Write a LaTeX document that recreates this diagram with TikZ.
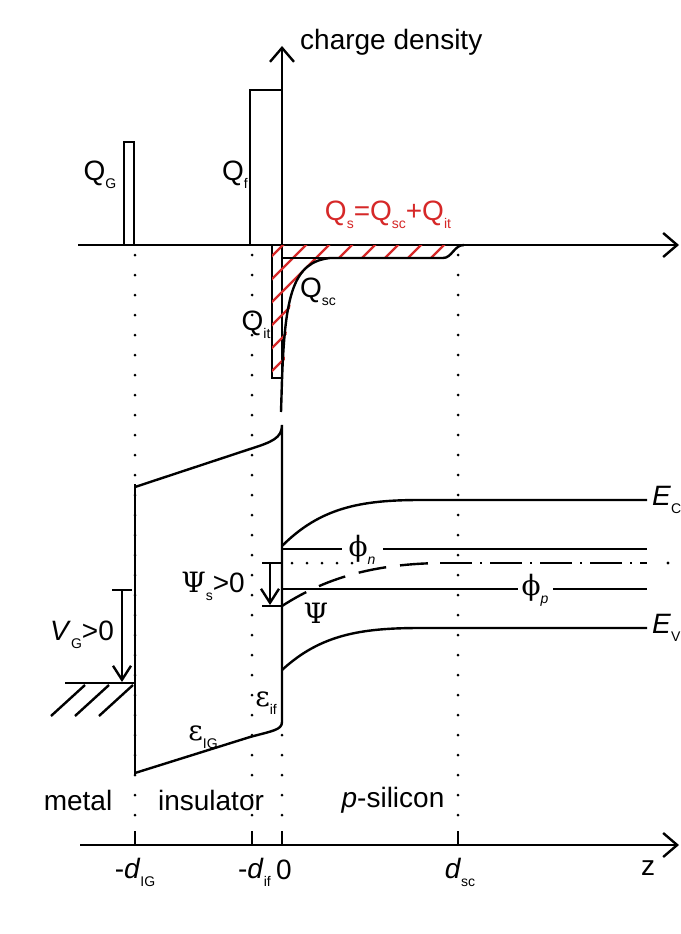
\documentclass[tikz,border=0pt]{standalone}
\usepackage{fontspec}
\setmainfont{Liberation Sans}
\newfontfamily\grk{DejaVu Serif}
\usepackage{xcolor}
\definecolor{qred}{RGB}{214,40,40}
\usetikzlibrary{arrows.meta,positioning}
\newcommand{\lo}[1]{\raisebox{-0.55ex}{\normalfont\fontsize{14}{14}\selectfont #1}}

\begin{document}
\begin{tikzpicture}[x=1pt,y=-1pt,
    every node/.style={font=\fontsize{28}{32}\selectfont,inner sep=0pt},
    band/.style={line width=2.4pt},
    axis/.style={line width=2.4pt,-{Straight Barb[length=14pt,width=24pt]}},
    arr/.style={line width=2.4pt,-{Straight Barb[length=14pt,width=18pt]}},
    guide/.style={line width=3pt,line cap=round,dash pattern=on 0pt off 20pt},
    hatch/.style={qred,line width=2.2pt}]
  \useasboundingbox[fill=white] (0,0) rectangle (680,934);

  % charge density
  \coordinate (o)    at (282,245);
  \coordinate (qtop) at (282,46);
  \coordinate (zl)   at (78,245);
  \coordinate (zr)   at (679,245);
  \draw[axis] (o) -- (qtop);
  \draw[axis] (zl) -- (zr);
  \node[anchor=west] (cd) at (300,42) {charge density};

  \draw[band] (124,245) rectangle (134,142);
  \draw[band] (250,245) rectangle (282,90);
  \draw[band] (272,245) rectangle (282,378);
  \node (qg) at (100,175) {Q\lo{G}};
  \node (qf) at (235,175) {Q\lo{f}};

  \begin{scope}
    \clip (272,245) -- (272,378) -- (284,378) .. controls (287,295) and (295,262) .. (330,258)
          -- (443,258) .. controls (452,258) and (454,245) .. (464,245) -- cycle;
    \foreach \c in {528,551,...,712}
      \draw[hatch] (\c-420,420) -- (\c-230,230);
  \end{scope}
  \draw[band] (281,412) -- (282,380) .. controls (285,295) and (293,262) .. (330,258)
        -- (443,258) .. controls (452,258) and (454,245) .. (464,245);
  \draw[band] (282,258) -- (330,258);
  \node[qred] (qs) at (388,215) {Q\lo{s}=Q\lo{sc}+Q\lo{it}};
  \node (qsc) at (318,292) {Q\lo{sc}};
  \node (qit) at (256,325) {Q\lo{it}};

  % dotted guides
  \foreach \x in {135,252,458}
    \draw[guide] (\x,255) -- (\x,832);
  \draw[guide] (282,735) -- (282,832);

  % insulator
  \draw[band] (135,484) -- (135,775);
  \draw[band] (135,487) -- (250,449) .. controls (272,442) and (282,438) .. (282,425)
        -- (282,722) .. controls (282,730) and (272,731) .. (250,737) -- (135,773);
  \node (eig) at (203,737) {{\grk ε}\lo{IG}};
  \node (eif) at (266,703) {{\grk ε}\lo{if}};

  % silicon bands
  \draw[band] (282,546) .. controls (320,508) and (360,500) .. (420,500) -- (647,500);
  \draw[band] (282,670) .. controls (320,635) and (360,628) .. (420,628) -- (647,628);
  \draw[band] (282,549) -- (342,549) (383,549) -- (647,549);
  \draw[band] (282,589) -- (518,589) (553,589) -- (647,589);
  \node (phn) at (362,550) {{\grk ϕ}\lo{\textit{n}}};
  \node (php) at (535,590) {{\grk ϕ}\lo{\textit{p}}};
  \node[anchor=west] (ec) at (652,500) {\textit{E}\lo{C}};
  \node[anchor=west] (ev) at (652,628) {\textit{E}\lo{V}};

  \draw[line width=3pt,line cap=round,dash pattern=on 0pt off 15pt] (292,563) -- (365,563);
  \draw[band,dash pattern=on 28pt off 14pt] (282,606) .. controls (330,575) and (380,564) .. (440,563);
  \draw[band,dash pattern=on 32pt off 8pt on 2pt off 8pt] (440,563) -- (647,563);
  \fill (668,563) circle (1.6pt);

  % surface potential
  \coordinate (pst) at (270,563);
  \coordinate (psb) at (270,605);
  \draw[band] (262,563) -- (282,563) (262,606) -- (282,606);
  \draw[arr] (pst) -- (psb);
  \node (psis) at (213,586) {{\grk Ψ}\lo{s}>0};
  \node (psi) at (316,613) {\grk Ψ};

  % gate voltage
  \coordinate (vgt) at (122,590);
  \coordinate (vgb) at (122,682);
  \draw[band] (112,590) -- (132,590);
  \draw[arr] (vgt) -- (vgb);
  \draw[band] (65,683) -- (136,683);
  \foreach \x in {85,109,133}
    \draw[band] (\x,685) -- (\x-34,716);
  \node (vg) at (82,635) {\textit{V}\lo{G}>0};

  % z axis
  \node (metal) at (78,800) {metal};
  \node (ins) at (211,800) {insulator};
  \node (psil) at (393,800) {\textit{p}-silicon};
  \coordinate (zal) at (80,845);
  \coordinate (zar) at (679,845);
  \draw[axis] (zal) -- (zar);
  \foreach \x in {135,252,282,458}
    \draw[band] (\x,831) -- (\x,845);
  \node (dig) at (135,872) {-\textit{d}\lo{IG}};
  \node[anchor=east] (dif) at (271,872) {-\textit{d}\lo{if}};
  \node[anchor=west] (zero) at (276,870) {0};
  \node (dsc) at (460,872) {\textit{d}\lo{sc}};
  \node (z) at (648,868) {z};
\end{tikzpicture}
\end{document}
